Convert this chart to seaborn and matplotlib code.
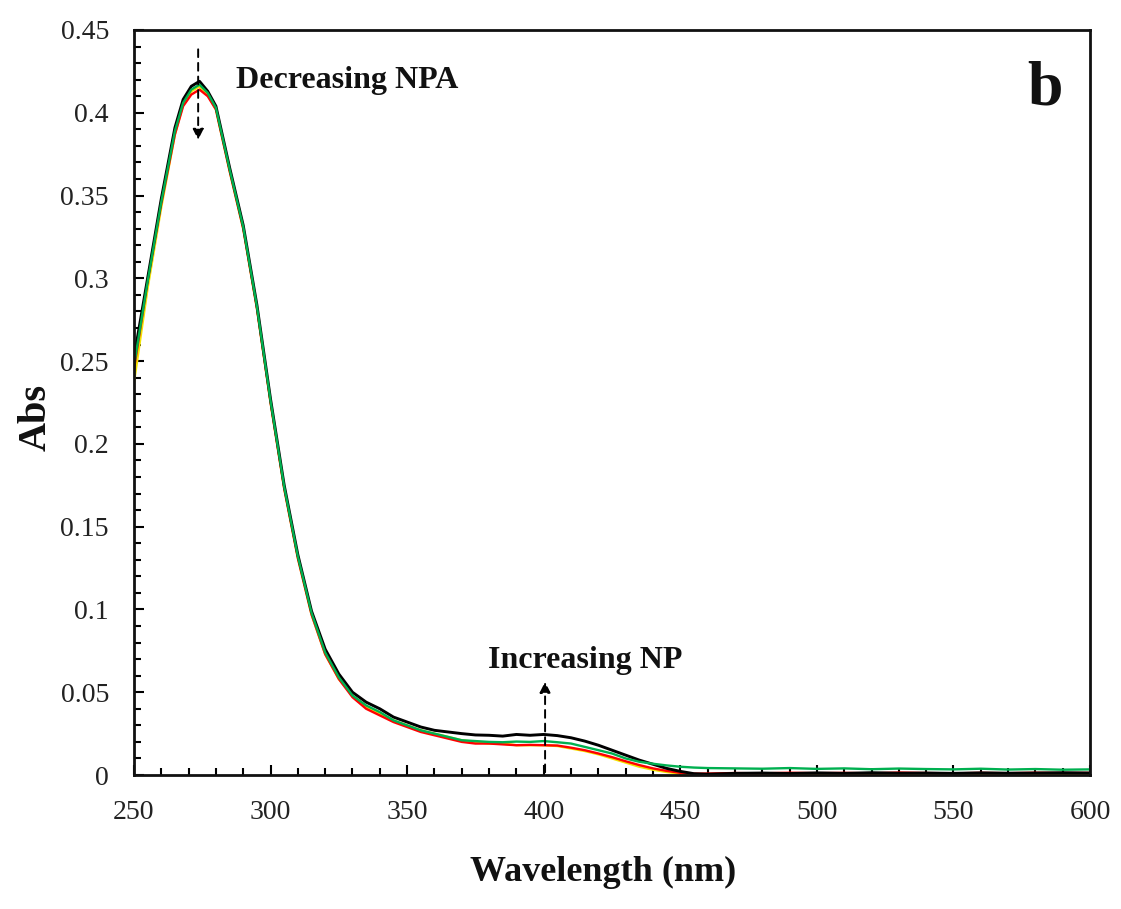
import numpy as np
import pandas as pd
import matplotlib
matplotlib.use("Agg")
import matplotlib.pyplot as plt
from matplotlib.ticker import MultipleLocator, FuncFormatter
import seaborn as sns

wavelength = [250, 255, 260, 265, 268, 271, 274, 277, 280, 285, 290, 295, 300, 305, 310,
              315, 320, 325, 330, 335, 340, 345, 350, 355, 360, 365, 370, 375, 380, 385,
              390, 395, 400, 405, 410, 415, 420, 425, 430, 435, 440, 445, 450, 455, 460,
              470, 480, 490, 500, 510, 520, 530, 540, 550, 560, 570, 580, 590, 600]

abs_yellow = [0.237, 0.294, 0.343, 0.387, 0.405, 0.413, 0.416, 0.411, 0.402, 0.365, 0.330,
              0.282, 0.225, 0.173, 0.131, 0.097, 0.073, 0.058, 0.048, 0.041, 0.037, 0.033,
              0.030, 0.027, 0.025, 0.023, 0.021, 0.020, 0.019, 0.019, 0.018, 0.018, 0.018,
              0.0175, 0.016, 0.0145, 0.0125, 0.010, 0.0075, 0.005, 0.0032, 0.0018, 0.0008,
              0.0003, 0.0002, 0.0003, 0.0004, 0.0003, 0.0004, 0.0003, 0.0004, 0.0003, 0.0004,
              0.0003, 0.0004, 0.0003, 0.0004, 0.0003, 0.0004]

abs_red = [0.245, 0.298, 0.345, 0.387, 0.404, 0.411, 0.414, 0.410, 0.402, 0.365, 0.330,
           0.282, 0.225, 0.173, 0.131, 0.097, 0.073, 0.058, 0.047, 0.040, 0.036, 0.032,
           0.029, 0.026, 0.024, 0.022, 0.020, 0.019, 0.019, 0.0185, 0.018, 0.0182, 0.018,
           0.0178, 0.0165, 0.015, 0.013, 0.0108, 0.0083, 0.006, 0.004, 0.0025, 0.0013,
           0.0008, 0.0009, 0.0012, 0.0010, 0.0014, 0.0011, 0.0013, 0.0010, 0.0015, 0.0012,
           0.0010, 0.0013, 0.0011, 0.0014, 0.0012, 0.0013]

abs_black = [0.252, 0.300, 0.348, 0.391, 0.408, 0.416, 0.419, 0.413, 0.404, 0.367, 0.332,
             0.284, 0.227, 0.175, 0.133, 0.099, 0.076, 0.061, 0.050, 0.044, 0.040, 0.035,
             0.032, 0.029, 0.027, 0.026, 0.025, 0.0242, 0.024, 0.0235, 0.0245, 0.024, 0.0245,
             0.0238, 0.0225, 0.0205, 0.018, 0.015, 0.012, 0.009, 0.0065, 0.004, 0.0022,
             0.0008, 0.0005, 0.0010, 0.0012, 0.0009, 0.0013, 0.0010, 0.0014, 0.0011, 0.0012,
             0.0010, 0.0013, 0.0011, 0.0012, 0.0014, 0.0012]

abs_green = [0.247, 0.298, 0.346, 0.389, 0.406, 0.414, 0.417, 0.412, 0.403, 0.366, 0.331,
             0.283, 0.226, 0.174, 0.132, 0.098, 0.074, 0.059, 0.048, 0.042, 0.038, 0.033,
             0.030, 0.027, 0.025, 0.023, 0.021, 0.0205, 0.020, 0.0198, 0.0202, 0.020, 0.0205,
             0.0198, 0.019, 0.017, 0.015, 0.013, 0.010, 0.008, 0.0068, 0.0058, 0.0050,
             0.0045, 0.0042, 0.0040, 0.0038, 0.0042, 0.0037, 0.0040, 0.0035, 0.0039, 0.0036,
             0.0034, 0.0038, 0.0033, 0.0036, 0.0032, 0.0034]

series_names = ["yellow", "red", "black", "green"]
series_colors = ["#F2E600", "#FF0000", "#000000", "#00B050"]
series_widths = [1.7, 1.7, 2.1, 1.7]
series_values = [abs_yellow, abs_red, abs_black, abs_green]

df = pd.concat([pd.DataFrame({"Wavelength": wavelength, "Abs": v, "series": n})
                for n, v in zip(series_names, series_values)], ignore_index=True)

sns.set_style("ticks")
plt.rcParams["font.family"] = ["Liberation Serif", "DejaVu Serif"]
plt.rcParams["text.color"] = "black"
plt.rcParams["axes.labelcolor"] = "black"

fig = plt.figure(figsize=(11.21, 9.09), dpi=100)
ax = fig.add_axes([0.1195, 0.1474, 0.8529, 0.8196])

for n, c, w in zip(series_names, series_colors, series_widths):
    sns.lineplot(data=df[df["series"] == n], x="Wavelength", y="Abs", color=c,
                 linewidth=w, ax=ax, legend=False)

ax.set_xlim(250, 600)
ax.set_ylim(0, 0.45)
ax.xaxis.set_major_locator(MultipleLocator(50))
ax.xaxis.set_minor_locator(MultipleLocator(10))
ax.yaxis.set_major_locator(MultipleLocator(0.05))
ax.yaxis.set_minor_locator(MultipleLocator(0.01))
ax.yaxis.set_major_formatter(FuncFormatter(lambda v, p: f"{round(v, 2):g}"))
ax.tick_params(which="both", direction="in", top=False, right=False, colors="black",
               width=1.5, labelcolor="#222222")
ax.tick_params(which="major", length=7, labelsize=20)
ax.tick_params(which="minor", length=5)
ax.tick_params(axis="y", which="major", pad=18)
ax.tick_params(axis="x", which="major", pad=18)
for s in ax.spines.values():
    s.set_linewidth(2.0)
    s.set_color("#111111")
    s.set_visible(True)

ax.set_xlabel("Wavelength (nm)", fontsize=26, fontweight="bold", color="#111111")
ax.xaxis.set_label_coords(0.4906, -0.108)
ax.set_ylabel("Abs", fontsize=29, fontweight="bold", color="#111111")
ax.yaxis.set_label_coords(-0.083, 0.48)

ax.annotate("", xy=(273.5, 0.382), xytext=(273.5, 0.440),
            arrowprops=dict(arrowstyle="-|>", linestyle=(0, (4, 3)), color="black",
                            lw=1.4, mutation_scale=16))
ax.text(287.5, 0.415, "Decreasing NPA", fontsize=23, fontweight="bold",
        ha="left", va="baseline", color="#111111")

ax.annotate("", xy=(400.5, 0.058), xytext=(400.5, 0.0),
            arrowprops=dict(arrowstyle="-|>", linestyle=(0, (4, 3)), color="black",
                            lw=1.4, mutation_scale=16))
ax.text(415.1, 0.0646, "Increasing NP", fontsize=23, fontweight="bold",
        ha="center", va="baseline", color="#111111")

ax.text(583.6, 0.4047, "b", fontsize=46, fontweight="bold", ha="center", va="baseline",
        color="#111111")

fig.savefig("out.png", dpi=100, facecolor="white")
